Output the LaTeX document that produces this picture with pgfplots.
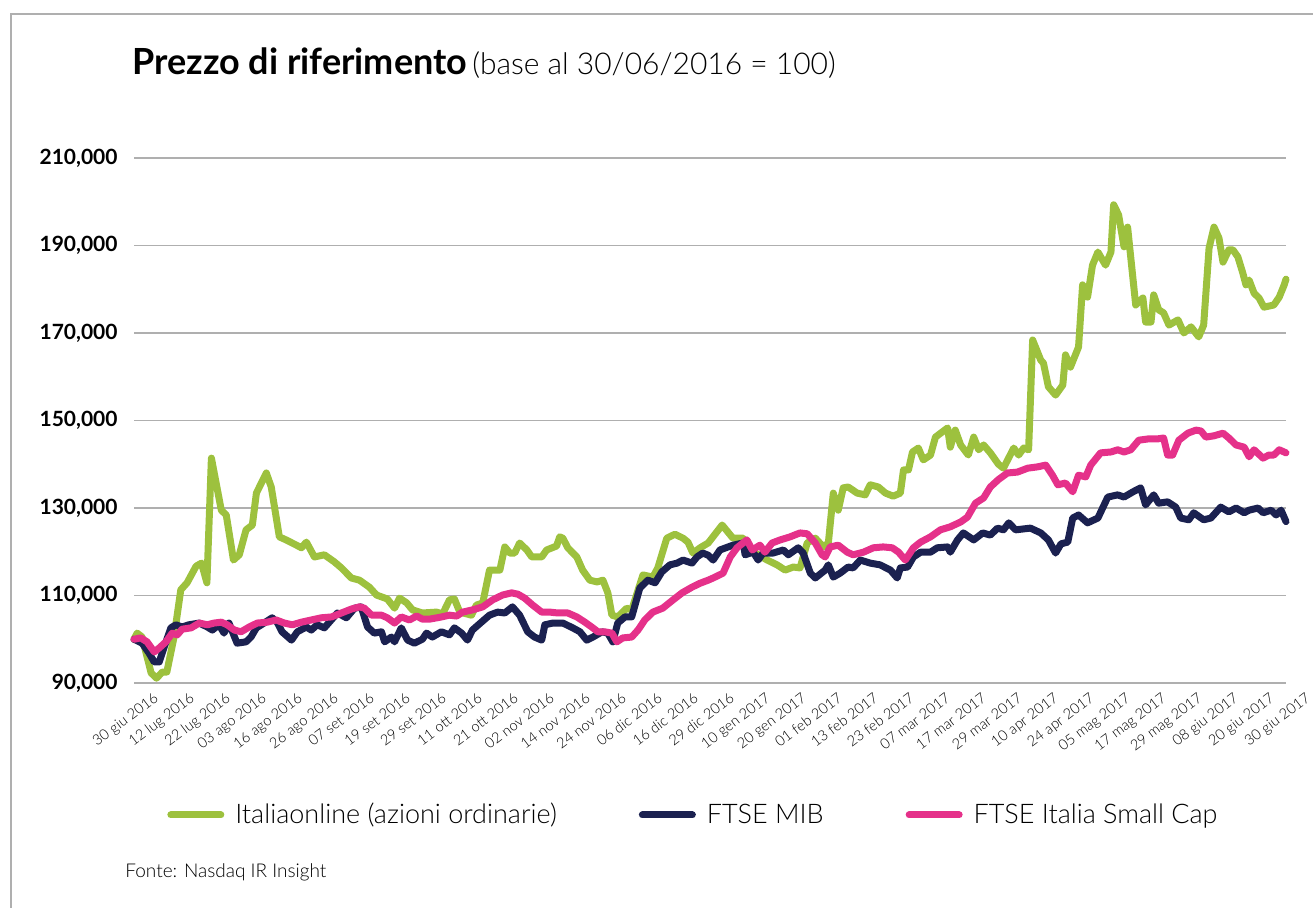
\documentclass[border=0pt]{standalone}
\usepackage{pgfplots}
\pgfplotsset{compat=1.18}
\usepackage{fontspec}
\setmainfont{Lato}
\newfontfamily\lightfont{Lato Light}
\definecolor{cgreen}{RGB}{157,193,62}
\definecolor{cnavy}{RGB}{27,33,80}
\definecolor{cpink}{RGB}{229,49,138}
\definecolor{cgrid}{RGB}{175,175,175}
\begin{document}
\begin{tikzpicture}
\path[use as bounding box] (0,0) rectangle (656.5pt,454pt);
\draw[cgrid, line width=1pt] (5.5pt,0pt) -- (5.5pt,447pt) -- (656.5pt,447pt);
\node[anchor=base west, inner sep=0pt] at (66pt,416.5pt) {{\fontsize{18}{20}\selectfont\bfseries Prezzo di riferimento} {\mdseries\lightfont\fontsize{15}{18}\selectfont (base al 30/06/2016 = 100)}};
\node[anchor=base west, inner sep=0pt] at (62.5pt,15pt) {\lightfont\fontsize{9.5}{11}\selectfont Fonte: Nasdaq IR Insight};
\begin{axis}[
  at={(67pt,112.5pt)}, anchor=south west,
  width=576pt, height=262.5pt, scale only axis,
  xmin=0, xmax=256, ymin=90, ymax=210,
  clip=false,
  axis line style={draw=none},
  major tick length=0pt,
  ymajorgrids, major grid style={cgrid, line width=0.9pt},
  ytick={90,110,130,150,170,190,210},
  yticklabels={{90,000},{110,000},{130,000},{150,000},{170,000},{190,000},{210,000}},
  yticklabel style={font=\bfseries\fontsize{10.5}{12}\selectfont, inner sep=0pt, xshift=-8pt, anchor=east},
  xtick={0,8,...,256},
  xticklabels={30 giu 2016,12 lug 2016,22 lug 2016,03 ago 2016,16 ago 2016,26 ago 2016,07 set 2016,19 set 2016,29 set 2016,11 ott 2016,21 ott 2016,02 nov 2016,14 nov 2016,24 nov 2016,06 dic 2016,16 dic 2016,29 dic 2016,10 gen 2017,20 gen 2017,01 feb 2017,13 feb 2017,23 feb 2017,07 mar 2017,17 mar 2017,29 mar 2017,10 apr 2017,24 apr 2017,05 mag 2017,17 mag 2017,29 mag 2017,08 giu 2017,20 giu 2017,30 giu 2017},
  xticklabel style={font=\lightfont\fontsize{7.3}{8}\selectfont, rotate=37, anchor=north east, inner sep=1pt, xshift=6pt, yshift=-8pt},
  legend columns=3,
  legend style={at={(0.0286,-0.2514)}, anchor=west, draw=none, fill=none, inner sep=0pt,
    font=\lightfont\fontsize{13.5}{15}\selectfont,
    /tikz/every odd column/.append style={column sep=3.5pt},
    /tikz/every even column/.append style={column sep=39pt}},
  legend image code/.code={\draw[#1] (0pt,0pt) -- (25pt,0pt);},
  every axis plot/.append style={line width=3.5pt, line join=round, line cap=round},
]
\addplot[cgreen] coordinates {
(0,100)(0.7,101.4)(1.8,100.5)(3.8,92.3)(5,91.1)(6.3,92.5)(7.3,92.5)(8.9,100.5)(10.4,111.3)(11.8,112.9)(13.8,116.7)(15,117.4)(16.2,112.9)(17.2,141.4)(19.4,129.5)(20.5,128.4)(22.1,118.1)(23.4,119.3)(24.9,125)(26.3,126.1)(27.2,133.4)(29.4,138)(30.5,134.8)(32.3,123.4)(33.8,122.7)(36.1,121.5)(37.2,120.9)(38.3,122.2)(40.1,118.8)(42.3,119.3)(44.5,117.7)(46.1,116.3)(48.3,114)(50.1,113.5)(52.3,111.9)(53.9,110.1)(56.3,109.2)(57.9,107.1)(59,109.4)(60.6,108.3)(61.9,106.7)(64.1,106)(67.2,106.2)(68.6,105.8)(70.1,109)(71.2,109.2)(72.4,106.2)(75,105.5)(76.1,107.8)(77.5,108.3)(79,115.8)(81.3,115.8)(82.4,121.1)(83.5,119.7)(84.6,119.7)(85.7,122)(87.3,120.4)(88.4,118.8)(90.6,118.8)(91.7,120.4)(93.9,121.3)(94.6,123.4)(95.3,123.1)(96.4,120.9)(98.4,118.8)(99.7,115.8)(101.3,113.5)(102.9,113.1)(104.2,113.5)(105.3,110.6)(106.2,105.5)(107.5,105.1)(109.5,107.1)(110.6,106.7)(113.1,114.7)(115.3,114.2)(116.4,116.3)(118.4,123.1)(120.2,124)(122,123.1)(123.1,122.2)(124.2,119.7)(125.8,120.9)(127.6,122)(130.7,126.1)(133.1,123.1)(135.4,123.1)(136.9,120.4)(140.7,118.1)(142.9,117)(144.7,115.8)(146.5,116.5)(148,116.3)(149.6,122)(151.4,123.1)(153.2,121.1)(154.3,122)(155.4,133.4)(156.5,129.5)(157.6,134.6)(158.7,134.8)(160.7,133.4)(162.5,133)(163.6,135.3)(165.4,134.8)(167,133.4)(168.7,132.7)(170.3,133.4)(171,138.7)(172.1,138.7)(173,142.8)(174.3,143.7)(175.4,141)(177,142.1)(178.1,146.2)(180.8,148.3)(181.4,143.9)(182.5,147.8)(183.7,144.4)(185.4,142.1)(186.6,146.2)(187.7,143.3)(188.8,144.4)(190.3,142.6)(192.1,140)(193.2,139.1)(195.5,143.7)(196.6,142.1)(197.7,143.7)(198.8,143.3)(199.7,168.4)(201.5,163.8)(202.1,163.1)(203.2,157.7)(204.8,155.8)(206.4,158.1)(207,165)(208.1,162.2)(209.9,166.8)(210.8,181)(211.9,178.2)(213,185.5)(214.2,188.5)(215.9,185.5)(217.1,188.5)(217.7,199.3)(218.8,197)(220,189.7)(220.8,194.2)(222.6,176.4)(224.2,178)(224.8,172.5)(226,172.5)(226.6,178.7)(227.7,175.3)(228.8,174.6)(230,171.8)(232,173)(233.3,170)(234.9,171.4)(236.6,169.1)(237.7,171.8)(238.9,189.4)(240,194.2)(241.1,191.7)(242,186.2)(243.3,189)(244.2,189)(245.3,187.4)(246.4,183.7)(247.1,181)(247.8,182.1)(248.9,179.1)(250,178)(251.1,175.9)(253.3,176.4)(254.5,178.2)(255.6,181)(256,182.3)
};
\addlegendentry{Italiaonline (azioni ordinarie)}
\addplot[cnavy] coordinates {
(0,100)(1.8,99.1)(3.3,96.9)(4.5,94.8)(5.6,94.8)(6.7,98.2)(8.2,102.6)(9.3,103.3)(10.7,102.8)(12.2,103.3)(14.5,103.7)(16.3,102.8)(17.4,102.1)(18.9,103.3)(20,101.4)(21.1,103.7)(22.9,99.1)(24.9,99.4)(26,100.5)(27.2,102.6)(28.9,103.7)(30.7,104.9)(31.8,103.9)(32.9,101.7)(35,99.8)(36.3,101.7)(38.3,102.8)(39.4,102.1)(40.7,103.3)(42.3,102.6)(45.2,106)(47.2,104.9)(49,107.1)(50.5,107.4)(51.9,102.8)(53.4,101.4)(55,101.7)(55.7,99.4)(57.2,100.5)(57.9,99.4)(59.4,102.6)(60.8,99.8)(62.3,99.1)(64.1,100)(65,101.4)(66.3,100.5)(68.3,101.7)(70.1,101)(71.2,102.6)(72.8,101.4)(74.1,99.8)(75.2,102.1)(77.2,103.9)(79,105.5)(80.8,106.2)(82.4,106)(84.1,107.4)(85.7,105.5)(87.5,101.7)(89,100.5)(90.6,99.8)(91.3,103.3)(93.1,103.7)(95.3,103.7)(97.5,102.6)(99.1,101.7)(100.6,99.8)(102,100.5)(104,101.7)(105.3,101.4)(106.4,99.4)(107.5,103.7)(109.1,105.1)(110.6,105.1)(112.4,111.7)(114.2,113.5)(115.8,112.9)(117.3,115.4)(119.1,117)(120.7,117.4)(122,118.1)(124,117.4)(125.1,118.8)(126.4,119.7)(127.6,119.2)(128.7,118.1)(130.2,120.4)(133.1,121.5)(135.4,122)(135.8,119.3)(137.6,119.9)(138.7,118.1)(139.8,119.7)(142,119.7)(144.3,120.4)(145.4,119.3)(147.6,120.9)(148.7,119.7)(150.3,115.1)(151.4,114)(153.6,115.8)(154.3,117)(155.4,114.2)(156.9,115.1)(158.7,116.5)(159.8,116.3)(161.4,118.1)(163.6,117.4)(165.8,117)(168.1,115.8)(169.6,114)(170.3,116.3)(171.9,116.5)(173.2,118.8)(174.8,119.9)(177,119.9)(178.5,120.9)(180.8,121.1)(181.4,119.9)(183,122.7)(184.3,124.3)(186.6,122.7)(188.6,124.3)(190.3,123.8)(191.9,125.4)(193.2,125)(194.4,126.6)(195.9,125)(199.2,125.4)(201.5,124.3)(203.2,122.7)(204.8,119.7)(206,121.8)(207.5,122.2)(208.6,127.7)(209.9,128.4)(211.9,126.6)(214.2,127.7)(216.4,132.5)(218.6,133)(220,132.5)(222,133.7)(223.7,134.6)(224.8,130.7)(226.6,133)(227.7,131.1)(229.7,131.4)(231.5,130.2)(232.6,127.7)(234.4,127.3)(235.5,128.9)(237.7,127.3)(239.3,127.7)(241.5,130.2)(243.3,129.1)(244.9,130)(246.7,128.9)(247.8,129.5)(249.8,130)(250.9,128.9)(252.7,129.5)(253.8,128.4)(254.9,129.5)(256,126.9)
};
\addlegendentry{FTSE MIB}
\addplot[cpink] coordinates {
(0,100)(1.5,100.3)(2.9,99.4)(4.5,97.1)(5.6,98)(7.1,99.4)(8.5,101.4)(9.6,101)(10.7,102.3)(12.7,102.6)(14.5,103.7)(16.3,103.3)(17.8,103.7)(19.4,103.9)(20.7,103.3)(22.3,102.1)(23.8,101.7)(25.6,102.8)(27.4,103.7)(29.6,103.9)(31.6,104.4)(33.4,103.7)(35.2,103.3)(37.2,103.9)(39.4,104.4)(41.6,104.9)(43.9,105.1)(46.1,106)(48.3,106.9)(50.1,107.4)(51.2,107.1)(52.8,105.5)(55,105.5)(56.3,104.9)(57.9,103.7)(59.4,105.1)(61.2,104.4)(62.8,105.3)(64.1,104.6)(65.7,104.6)(67.9,105)(70.1,105.5)(71.7,105.3)(73,106.2)(75.2,106.7)(77.5,107.4)(79.7,109)(81.9,110.1)(83.9,110.6)(85.3,110.3)(86.8,109.4)(88.6,107.8)(90.6,106.2)(92.4,106.2)(94.2,106)(96.4,106)(98.4,105.1)(100.2,103.9)(101.7,102.8)(103.1,101.7)(104.6,101.7)(106.2,101.4)(107.3,99.4)(108.6,100.3)(110.6,100.5)(112,102.1)(113.5,104.4)(115.3,106.2)(117.5,107.1)(119.8,109)(121.8,110.6)(124,111.9)(125.8,112.8)(127.6,113.5)(128.7,114)(130.9,115.1)(132.5,118.8)(134,120.9)(136.2,122.7)(137.4,120.4)(139.1,121.5)(140.2,119.9)(141.8,122)(143.6,122.7)(145.8,123.4)(148,124.3)(149.6,124.1)(151.4,122)(152.9,119.3)(153.6,118.8)(154.7,121.1)(156.5,121.5)(158.5,119.9)(159.8,119.3)(162.1,119.9)(164.3,120.9)(166.5,121.1)(168.5,120.9)(169.9,119.9)(171.4,118.1)(173.2,120.9)(174.8,122.2)(177,123.4)(179.2,125)(181.4,125.7)(183.7,126.8)(185.2,127.9)(187,131.1)(188.8,132.3)(190.3,134.8)(192.1,136.5)(194.1,138)(196.3,138.2)(198.6,139.1)(200.8,139.4)(202.6,139.8)(204.1,137.5)(205.3,135.3)(207,135.7)(208.6,133.7)(209.9,137.5)(211.5,137.1)(212.6,139.8)(214.8,142.6)(217.1,142.8)(218.6,143.3)(220,142.8)(221.5,143.3)(223.3,145.5)(225.5,145.8)(227.5,145.8)(228.8,146)(229.7,142.1)(230.8,142.1)(232.2,145.5)(234.2,147.1)(236,147.8)(237.1,147.6)(238.2,146.2)(240,146.5)(242,147.1)(243.3,146)(244.9,144.4)(246.7,143.9)(247.8,141.7)(248.9,143.3)(250.9,141.4)(252.2,142.1)(253.3,142.1)(254.5,143.3)(256,142.6)
};
\addlegendentry{FTSE Italia Small Cap}
\end{axis}
\end{tikzpicture}
\end{document}
